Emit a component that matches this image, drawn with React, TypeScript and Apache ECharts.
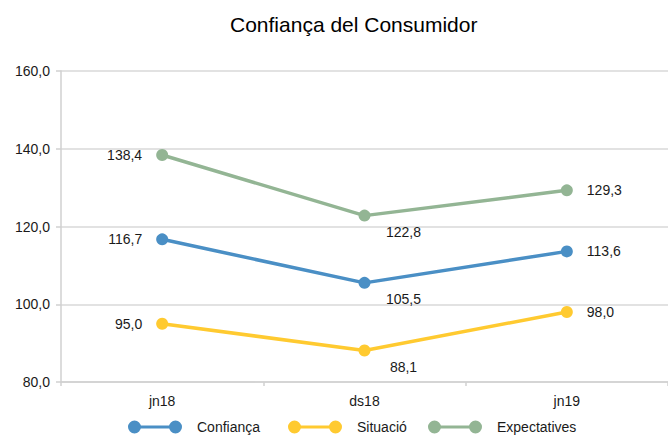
import React, { useEffect, useRef } from "react";
import * as echarts from "echarts";

const categories = ["jn18", "ds18", "jn19"];
const seriesNames = ["Confiança", "Situació", "Expectatives"];
const confianca = [116.7, 105.5, 113.6];
const situacio = [95.0, 88.1, 98.0];
const expectatives = [138.4, 122.8, 129.3];
const colors = ["#4A8FC5", "#FFCA30", "#93B594"];
const yTicks = { min: 80, max: 160, interval: 20 };

const fmt = (v: number) => v.toFixed(1).replace(".", ",");

const LEGEND_ICON =
  "path://M0,6.5 A6.5,6.5 0 1,1 13,6.5 A6.5,6.5 0 1,1 0,6.5 Z M41,6.5 A6.5,6.5 0 1,1 54,6.5 A6.5,6.5 0 1,1 41,6.5 Z M6.5,5 L47.5,5 L47.5,8 L6.5,8 Z";

function buildData(values: number[]) {
  return values.map((v, i) => {
    let label: any;
    if (i === 0) label = { position: "left", distance: 14 };
    else if (i === values.length - 1) label = { position: "right", distance: 14 };
    else label = { position: "inside", offset: [39, 16] };
    return { value: v, label };
  });
}

export default function App() {
  const ref = useRef<HTMLDivElement>(null);
  useEffect(() => {
    if (!ref.current) return;
    const chart = echarts.init(ref.current, undefined, { renderer: "svg" });
    const all = [confianca, situacio, expectatives];
    const legendLefts = [128, 288, 428];
    chart.setOption({
      animation: false,
      color: colors,
      title: {
        text: "Confiança del Consumidor",
        left: 225,
        top: 9,
        textStyle: {
          fontFamily: "Liberation Sans, Arial, sans-serif",
          fontSize: 21,
          fontWeight: "normal",
          color: "#000",
        },
      },
      legend: seriesNames.map((n, i) => ({
        data: [{ name: n, icon: LEGEND_ICON }],
        left: legendLefts[i],
        top: 419,
        padding: 0,
        itemWidth: 54,
        itemHeight: 13,
        symbolKeepAspect: false,
        selectedMode: false,
        textStyle: {
          fontFamily: "Liberation Sans, Arial, sans-serif",
          fontSize: 14,
          lineHeight: 16,
          color: "#1a1a1a",
          padding: [0, 0, 0, 10],
        },
      })),
      grid: { left: 61, right: -8, top: 71, bottom: 55 },
      xAxis: {
        type: "category",
        data: categories,
        boundaryGap: true,
        axisLine: { lineStyle: { color: "#d0d0d0", width: 1.5 } },
        axisTick: { show: true, length: 4, lineStyle: { color: "#d0d0d0", width: 1.5 } },
        axisLabel: {
          margin: 12,
          fontFamily: "Liberation Sans, Arial, sans-serif",
          fontSize: 14,
          color: "#1a1a1a",
        },
      },
      yAxis: {
        type: "value",
        min: yTicks.min,
        max: yTicks.max,
        interval: yTicks.interval,
        axisLine: { show: true, lineStyle: { color: "#d0d0d0", width: 1.5 } },
        axisTick: { show: true, length: 5, lineStyle: { color: "#d0d0d0", width: 1.5 } },
        splitLine: { show: true, lineStyle: { color: "#d9d9d9", width: 1.5 } },
        axisLabel: {
          margin: 11,
          formatter: (v: number) => fmt(v),
          fontFamily: "Liberation Sans, Arial, sans-serif",
          fontSize: 14,
          color: "#1a1a1a",
        },
      },
      series: seriesNames.map((n, i) => ({
        name: n,
        type: "line",
        data: buildData(all[i]),
        symbol: "circle",
        symbolSize: 12,
        lineStyle: { width: 3.5, color: colors[i] },
        itemStyle: { color: colors[i] },
        label: {
          show: true,
          formatter: (p: any) => fmt(p.value),
          fontFamily: "Liberation Sans, Arial, sans-serif",
          fontSize: 14,
          color: "#1a1a1a",
        },
      })),
    });
    return () => chart.dispose();
  }, []);
  return (
    <div
      ref={ref}
      style={{ position: "absolute", left: 0, top: 0, width: 668, height: 437 }}
    />
  );
}
